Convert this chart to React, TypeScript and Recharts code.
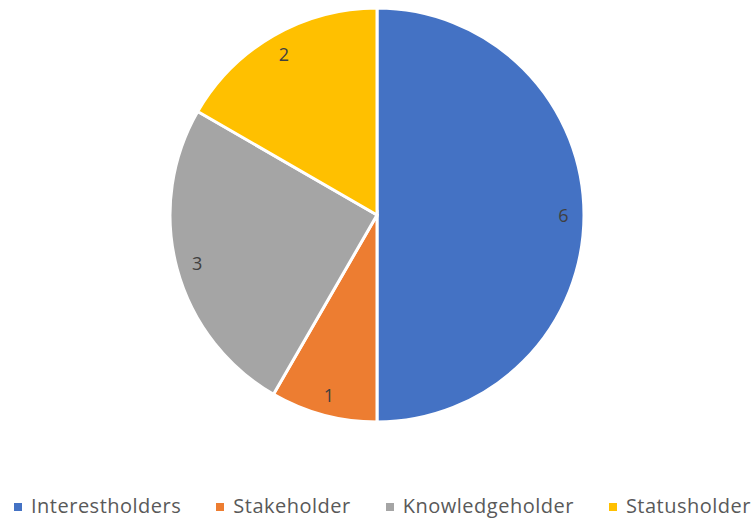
import { PieChart, Pie, Cell } from "recharts";

const categories = ["Interestholders", "Stakeholder", "Knowledgeholder", "Statusholder"];
const counts = [6, 1, 3, 2];
const colors = ["#4472C4", "#ED7D31", "#A5A5A5", "#FFC000"];

const data = categories.map((name, i) => ({ name, value: counts[i] }));

const RADIAN = Math.PI / 180;
const FONT = "'Open Sans', 'Noto Sans', sans-serif";

function renderLabel(props: any) {
  const { cx, cy, midAngle, outerRadius, value } = props;
  const r = outerRadius * 0.9;
  const x = cx + r * Math.cos(-midAngle * RADIAN);
  const y = cy + r * Math.sin(-midAngle * RADIAN);
  return (
    <text
      x={x}
      y={y}
      fill="#404040"
      fontSize={18}
      fontFamily={FONT}
      textAnchor="middle"
      dominantBaseline="central"
    >
      {value}
    </text>
  );
}

function ChartLegend() {
  return (
    <div
      style={{
        position: "absolute",
        left: 14,
        top: 492,
        display: "flex",
        gap: 35,
        fontFamily: FONT,
        fontSize: 20,
        letterSpacing: 0.5,
        lineHeight: "27px",
        color: "#595959",
        whiteSpace: "nowrap",
      }}
    >
      {categories.map((c, i) => (
        <div key={c} style={{ display: "flex", alignItems: "center" }}>
          <span
            style={{
              width: 8,
              height: 8,
              background: colors[i],
              display: "inline-block",
              marginRight: 9,
              marginTop: 2,
            }}
          />
          <span>{c}</span>
        </div>
      ))}
    </div>
  );
}

export default function App() {
  return (
    <div style={{ position: "absolute", left: 0, top: 0, width: 755, height: 520, background: "#fff", overflow: "hidden" }}>
      <PieChart width={755} height={520} margin={{ top: 0, right: 0, bottom: 0, left: 0 }}>
        <Pie
          data={data}
          dataKey="value"
          nameKey="name"
          cx={377}
          cy={215}
          outerRadius={207}
          startAngle={90}
          endAngle={-270}
          stroke="#fff"
          strokeWidth={3}
          label={renderLabel}
          labelLine={false}
          isAnimationActive={false}
        >
          {data.map((d, i) => (
            <Cell key={d.name} fill={colors[i]} />
          ))}
        </Pie>
      </PieChart>
      <ChartLegend />
    </div>
  );
}
